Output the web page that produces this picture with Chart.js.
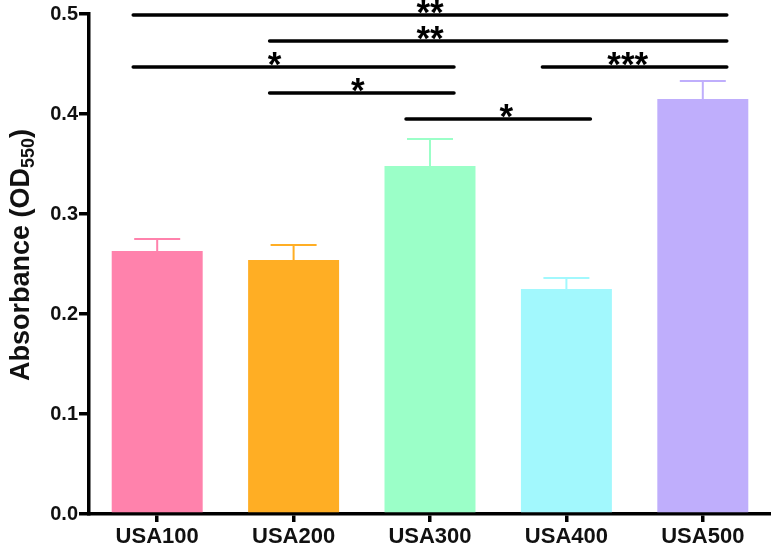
<!DOCTYPE html>
<html>
<head>
<meta charset="utf-8">
<script src="https://cdn.jsdelivr.net/npm/chart.js@4/dist/chart.umd.min.js"></script>
<style>
  html, body { margin: 0; padding: 0; background: #fff; }
  #wrap { width: 771px; height: 545px; position: relative; }
</style>
</head>
<body>
<div id="wrap"><canvas id="absChart"></canvas></div>
<script>
// --- data ---
const strains = ['USA100', 'USA200', 'USA300', 'USA400', 'USA500'];
const meanOD = [0.263, 0.254, 0.348, 0.225, 0.415];
const errOD = [0.012, 0.015, 0.027, 0.011, 0.018];
const barColors = ['#ff82ac', '#ffae24', '#9bffc8', '#a2f8fd', '#bfaefc'];
const yTicks = [0, 0.1, 0.2, 0.3, 0.4, 0.5];

// significance brackets (category indices) and their star labels
const bracketFrom = [0, 1, 0, 3, 1, 2];
const bracketTo = [4, 4, 2, 4, 2, 3];
const bracketLevel = [0.499, 0.473, 0.447, 0.447, 0.421, 0.395];
const bracketStars = ['**', '**', '*', '***', '*', '*'];
const bracketStarAt = [2, 2, 0.86, 3.45, 1.47, 2.56];

const FONT = '"Liberation Sans", Arial, Helvetica, sans-serif';

const errorBars = {
    id: 'errorBars',
    afterDatasetsDraw(chart) {
        const ctx = chart.ctx;
        const x = chart.scales.x, y = chart.scales.y;
        ctx.save();
        ctx.lineWidth = 2;
        meanOD.forEach((v, i) => {
            const px = x.getPixelForValue(i);
            const top = y.getPixelForValue(v + errOD[i]);
            const base = y.getPixelForValue(v);
            ctx.strokeStyle = barColors[i];
            ctx.beginPath();
            ctx.moveTo(px, base);
            ctx.lineTo(px, top);
            ctx.moveTo(px - 23, top);
            ctx.lineTo(px + 23, top);
            ctx.stroke();
        });
        ctx.restore();
    }
};

const brackets = {
    id: 'brackets',
    afterDraw(chart) {
        const ctx = chart.ctx;
        const x = chart.scales.x, y = chart.scales.y;
        ctx.save();
        ctx.strokeStyle = '#000';
        ctx.fillStyle = '#000';
        ctx.lineWidth = 3.5;
        ctx.lineCap = 'round';
        ctx.font = 'bold 35px ' + FONT;
        ctx.textAlign = 'center';
        ctx.textBaseline = 'alphabetic';
        bracketFrom.forEach((f, i) => {
            const py = y.getPixelForValue(bracketLevel[i]);
            ctx.beginPath();
            ctx.moveTo(x.getPixelForValue(f) - 24, py);
            ctx.lineTo(x.getPixelForValue(bracketTo[i]) + 24, py);
            ctx.stroke();
            const m = ctx.measureText(bracketStars[i]);
            const sx = x.getPixelForValue(0) + bracketStarAt[i] * (x.getPixelForValue(1) - x.getPixelForValue(0));
            ctx.fillText(bracketStars[i], sx, py - 1 - m.actualBoundingBoxDescent);
        });
        ctx.restore();
    }
};

const yTitle = {
    id: 'yTitle',
    afterDraw(chart) {
        const ctx = chart.ctx;
        const area = chart.chartArea;
        const main = 'Absorbance (OD', sub = '550', close = ')';
        ctx.save();
        ctx.fillStyle = '#111';
        ctx.textBaseline = 'middle';
        ctx.textAlign = 'left';
        const big = 'bold 27px ' + FONT, small = 'bold 18px ' + FONT;
        ctx.font = big;
        const w1 = ctx.measureText(main).width, w3 = ctx.measureText(close).width;
        ctx.font = small;
        const w2 = ctx.measureText(sub).width;
        const total = w1 + w2 + w3;
        ctx.translate(22, (area.top + area.bottom) / 2 - 9);
        ctx.rotate(-Math.PI / 2);
        let cx = -total / 2;
        ctx.font = big;
        ctx.fillText(main, cx, 0);
        cx += w1;
        ctx.font = small;
        ctx.fillText(sub, cx, 7);
        cx += w2;
        ctx.font = big;
        ctx.fillText(close, cx, 0);
        ctx.restore();
    }
};

new Chart(document.getElementById('absChart'), {
    type: 'bar',
    data: {
        labels: strains,
        datasets: [{
            data: meanOD,
            backgroundColor: barColors,
            borderWidth: 0,
            barPercentage: 0.667,
            categoryPercentage: 1
        }]
    },
    options: {
        responsive: true,
        maintainAspectRatio: false,
        animation: false,
        layout: { padding: { top: 14, left: 0, right: 0, bottom: 0 } },
        plugins: { legend: { display: false }, tooltip: { enabled: false } },
        scales: {
            x: {
                offset: true,
                grid: { display: true, drawOnChartArea: false, offset: false, color: '#000', lineWidth: 3.5, tickLength: 8 },
                border: { display: true, color: '#000', width: 3.5 },
                ticks: { color: '#111', font: { family: FONT, size: 22, weight: 'bold' }, padding: 2, maxRotation: 0, autoSkip: false },
                afterFit(scale) { scale.height = 31; }
            },
            y: {
                min: 0,
                max: 0.5,
                afterBuildTicks(scale) { scale.ticks = yTicks.map(v => ({ value: v })); },
                grid: { display: true, drawOnChartArea: false, color: '#000', lineWidth: 3.5, tickLength: 10 },
                border: { display: true, color: '#000', width: 3.5 },
                ticks: {
                    color: '#111',
                    font: { family: FONT, size: 20, weight: 'bold' },
                    padding: 1,
                    callback: v => v.toFixed(1)
                },
                afterFit(scale) { scale.width = 89; }
            }
        }
    },
    plugins: [errorBars, brackets, yTitle]
});
</script>
</body>
</html>
